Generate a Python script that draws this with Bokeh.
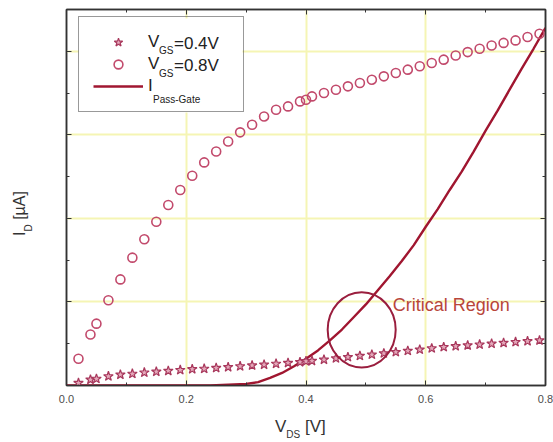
from bokeh.plotting import figure
from bokeh.models import (Range1d, LinearAxis, FixedTicker, Legend, LegendItem, Label,
                          CustomJSTickFormatter, BoxAnnotation, Div)
from bokeh.layouts import row, column
from bokeh.embed import file_html
from bokeh.resources import INLINE

# ---------------- data ----------------
vds = [0.02, 0.04, 0.05, 0.07, 0.09, 0.11, 0.13, 0.15, 0.17, 0.19, 0.21, 0.23, 0.25,
       0.27, 0.29, 0.31, 0.33, 0.35, 0.37, 0.39, 0.40, 0.41, 0.43, 0.45, 0.47, 0.49,
       0.51, 0.53, 0.55, 0.57, 0.59, 0.61, 0.63, 0.65, 0.67, 0.69, 0.71, 0.73, 0.75,
       0.77, 0.79]
id_vgs04 = [0.03, 0.07, 0.08, 0.11, 0.13, 0.14, 0.155, 0.165, 0.175, 0.185, 0.195, 0.20,
            0.21, 0.22, 0.23, 0.24, 0.25, 0.26, 0.27, 0.28, 0.29, 0.295, 0.31, 0.325,
            0.34, 0.355, 0.37, 0.385, 0.40, 0.415, 0.43, 0.445, 0.46, 0.47, 0.48, 0.49,
            0.50, 0.51, 0.52, 0.53, 0.54]
id_vgs08 = [0.32, 0.61, 0.74, 1.02, 1.27, 1.53, 1.75, 1.96, 2.16, 2.34, 2.51, 2.67, 2.80,
            2.92, 3.03, 3.12, 3.22, 3.30, 3.34, 3.40, 3.42, 3.46, 3.50, 3.54, 3.58, 3.62,
            3.66, 3.70, 3.74, 3.78, 3.82, 3.86, 3.90, 3.95, 3.99, 4.03, 4.07, 4.10, 4.13,
            4.17, 4.21]
v_passgate = [0.0, 0.20, 0.24, 0.27, 0.30, 0.32, 0.34, 0.36, 0.38, 0.40, 0.42, 0.44, 0.46,
              0.48, 0.50, 0.52, 0.54, 0.56, 0.58, 0.60, 0.62, 0.64, 0.66, 0.68, 0.70, 0.72,
              0.74, 0.76, 0.78, 0.80]
i_passgate = [0.0, 0.0, 0.0, 0.01, 0.02, 0.04, 0.09, 0.15, 0.23, 0.32, 0.42, 0.54, 0.67,
              0.82, 0.97, 1.14, 1.31, 1.49, 1.68, 1.90, 2.11, 2.34, 2.56, 2.80, 3.05, 3.29,
              3.54, 3.79, 4.03, 4.28]

x_ticks = [0.0, 0.2, 0.4, 0.6, 0.8]
x_tick_labels = ["0.0", "0.2", "0.4", "0.6", "0.8"]
x_minor = [0.1, 0.3, 0.5, 0.7]
y_ticks = [1, 2, 3, 4]
y_minor = [0.5, 1.5, 2.5, 3.5]

crit_center = (0.493, 0.666)
crit_size = (0.1136, 0.90)
crit_text_pos = (0.545, 0.96)

FONT = "Liberation Sans"
C_LINE = "#a01630"
C_CIRC = "#c24a6c"
C_STAR = "#a8385c"
C_AXIS = "#333333"
C_GRID = "#f5f5b4"

# legend box (px, from the frame's lower-left corner)
LEG_X, LEG_Y, LEG_W, LEG_H = 12, 273, 164, 94

p = figure(width=512, height=410, x_range=Range1d(0, 0.8), y_range=Range1d(0, 4.5),
           output_backend="svg", toolbar_location=None, margin=0,
           min_border_left=25, min_border_right=8, min_border_top=9, min_border_bottom=25)
p.background_fill_color = "white"
p.border_fill_color = "white"
p.outline_line_color = C_AXIS
p.outline_line_width = 1.5

blank = CustomJSTickFormatter(code="return ''")

# axes
xa = p.xaxis[0]
xa.ticker = FixedTicker(ticks=x_ticks, minor_ticks=x_minor)
xa.major_label_overrides = {t: l for t, l in zip(x_ticks, x_tick_labels)}
ya = p.yaxis[0]
ya.ticker = FixedTicker(ticks=y_ticks, minor_ticks=y_minor)
ya.formatter = blank

top = LinearAxis(ticker=FixedTicker(ticks=x_ticks, minor_ticks=x_minor), formatter=blank)
right = LinearAxis(ticker=FixedTicker(ticks=y_ticks, minor_ticks=y_minor), formatter=blank)
p.add_layout(top, "above")
p.add_layout(right, "right")

for ax in [xa, ya, top, right]:
    ax.axis_line_color = C_AXIS
    ax.axis_line_width = 1.5
    ax.major_tick_line_color = C_AXIS
    ax.minor_tick_line_color = C_AXIS
    ax.major_tick_in = 5
    ax.major_tick_out = 0
    ax.minor_tick_in = 3
    ax.minor_tick_out = 0
    ax.major_label_standoff = 0
xa.major_label_standoff = 9
xa.major_label_text_font = FONT
xa.major_label_text_font_size = "11px"
xa.major_label_text_color = "#4d4d4d"

# grid
p.xgrid.ticker = FixedTicker(ticks=[0.2, 0.4, 0.6])
p.ygrid.ticker = FixedTicker(ticks=y_ticks)
for g in (p.xgrid, p.ygrid):
    g.grid_line_color = C_GRID
    g.grid_line_width = 2

# white legend background that hides the grid (drawn above the grid, below the glyphs)
p.add_layout(BoxAnnotation(left=LEG_X, right=LEG_X + LEG_W, bottom=LEG_Y, top=LEG_Y + LEG_H,
                           left_units="screen", right_units="screen",
                           bottom_units="screen", top_units="screen",
                           fill_color="white", fill_alpha=1.0, line_alpha=0.0,
                           level="underlay"))

# data
r_line = p.line(v_passgate, i_passgate, line_color=C_LINE, line_width=2.4)
r_circ = p.scatter(vds, id_vgs08, marker="circle", size=9, fill_color=None,
                   line_color=C_CIRC, line_width=1.6)
r_star = p.scatter(vds, id_vgs04, marker="star", size=10, fill_color="#e4a8ba",
                   line_color=C_STAR, line_width=1.2)

# critical region annotation
p.ellipse(x=[crit_center[0]], y=[crit_center[1]], width=crit_size[0], height=crit_size[1],
          fill_color=None, line_color="#9a1e3e", line_width=2)
p.add_layout(Label(x=crit_text_pos[0], y=crit_text_pos[1], text="Critical Region",
                   text_font=FONT, text_font_size="18px", text_color="#b8463a",
                   text_baseline="middle"))

# legend (transparent background so that the texts added below stay visible)
legend = Legend(items=[LegendItem(label="V", renderers=[r_star]),
                       LegendItem(label="V", renderers=[r_circ]),
                       LegendItem(label="I", renderers=[r_line])],
                location=(LEG_X, LEG_Y), orientation="vertical",
                glyph_width=50, glyph_height=22, label_height=22, label_width=81,
                label_standoff=5, spacing=0, padding=14, margin=0,
                label_text_font=FONT, label_text_font_size="17px", label_text_color="#222222",
                border_line_color=C_AXIS, border_line_width=1.5,
                background_fill_alpha=0.0)
p.add_layout(legend)


def lab(px, py, text, size):
    p.add_layout(Label(x=px, y=py, x_units="screen", y_units="screen", text=text,
                       text_font=FONT, text_font_size=size, text_color="#222222",
                       text_baseline="middle", level="overlay"))


lab(92.5, 335, "GS", "10px")
lab(107.5, 342, "=0.4V", "17px")
lab(92.5, 312, "GS", "10px")
lab(107.5, 320, "=0.8V", "17px")
lab(86.5, 286, "Pass-Gate", "10px")

# axis titles as HTML (subscripts)
ytitle = Div(width=41, height=410, margin=0, text=(
    '<div style="position:relative;width:41px;height:410px;">'
    '<div style="position:absolute;left:12px;top:236px;transform:rotate(-90deg);'
    'transform-origin:0 0;font-family:\'Liberation Sans\';font-size:16px;line-height:16px;'
    'color:#333;white-space:nowrap;">'
    'I<span style="font-size:10px;position:relative;top:7px;">D</span> [\u00b5A]</div></div>'))
xtitle = Div(width=553, height=32, margin=0, text=(
    '<div style="position:relative;width:553px;height:32px;">'
    '<div style="position:absolute;left:275px;top:8px;font-family:\'Liberation Sans\';'
    'font-size:17px;line-height:17px;color:#333;white-space:nowrap;">'
    'V<span style="font-size:10px;position:relative;top:6px;">DS</span> [V]</div></div>'))

layout = column(row(ytitle, p, spacing=0, margin=0), xtitle, spacing=0, margin=0)

open("out.html", "w").write(file_html(layout, INLINE))
